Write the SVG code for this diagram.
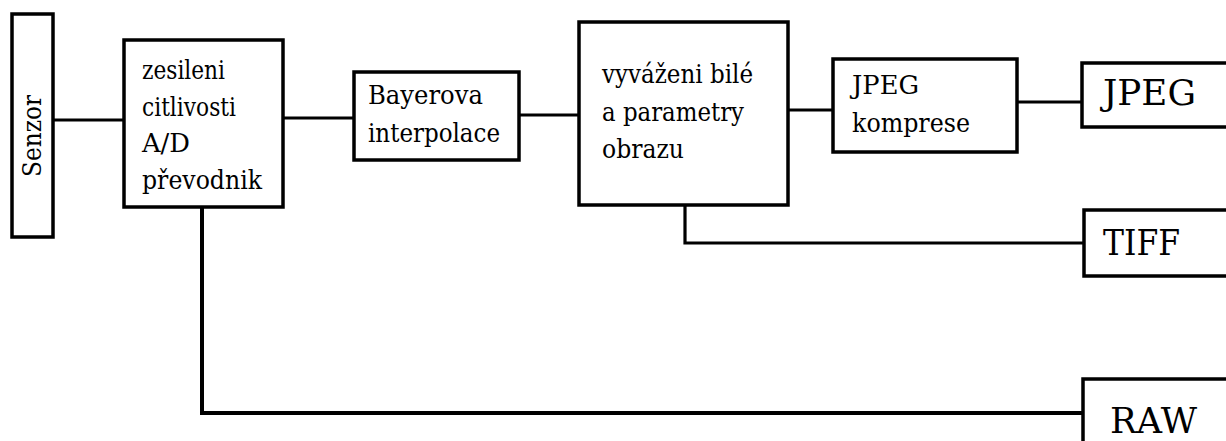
<svg xmlns="http://www.w3.org/2000/svg" width="1226" height="441" viewBox="0 0 1226 441">
<style>
.box{fill:#fff;stroke:#000;stroke-width:3.5}
.c{fill:none;stroke:#000;stroke-width:3.2}
text{font-family:'DejaVu Serif',serif;fill:#000}
.t{font-size:26px}
.big{font-size:35px}
</style>
<rect width="1226" height="441" fill="#fff"/>
<g id="connectors">
<path class="c" d="M53 120H124"/>
<path class="c" d="M283 118H354"/>
<path class="c" d="M519 115H579"/>
<path class="c" d="M788 110H833"/>
<path class="c" d="M1017 102H1082"/>
<path class="c" d="M685 205V243H1084"/>
<path class="c" style="stroke-width:4" d="M202 207V413H1083"/>
</g>
<g id="senzor">
<rect class="box" x="12" y="14" width="41" height="223"/>
<text class="t" transform="translate(41,136) rotate(-90)" text-anchor="middle" textLength="82" lengthAdjust="spacingAndGlyphs">Senzor</text>
</g>
<g id="zesileni">
<rect class="box" x="124" y="40" width="159" height="167"/>
<text class="t" x="142" y="79" textLength="83" lengthAdjust="spacingAndGlyphs">zesileni</text>
<text class="t" x="142" y="115.5" textLength="94" lengthAdjust="spacingAndGlyphs">citlivosti</text>
<text class="t" x="142" y="152" textLength="48" lengthAdjust="spacingAndGlyphs">A/D</text>
<text class="t" x="142" y="188.5" textLength="120" lengthAdjust="spacingAndGlyphs">převodnik</text>
</g>
<g id="bayer">
<rect class="box" x="354" y="72" width="165" height="88"/>
<text class="t" x="368" y="104" textLength="115" lengthAdjust="spacingAndGlyphs">Bayerova</text>
<text class="t" x="368" y="142" textLength="132" lengthAdjust="spacingAndGlyphs">interpolace</text>
</g>
<g id="vyvazeni">
<rect class="box" x="579" y="22" width="209" height="183"/>
<text class="t" x="602" y="83" textLength="151" lengthAdjust="spacingAndGlyphs">vyváženi bilé</text>
<text class="t" x="602" y="121" textLength="142" lengthAdjust="spacingAndGlyphs">a parametry</text>
<text class="t" x="602" y="158" textLength="82" lengthAdjust="spacingAndGlyphs">obrazu</text>
</g>
<g id="jpegkomprese">
<rect class="box" x="833" y="59" width="184" height="93"/>
<text class="t" x="852" y="94" textLength="67" lengthAdjust="spacingAndGlyphs">JPEG</text>
<text class="t" x="852" y="132" textLength="118" lengthAdjust="spacingAndGlyphs">komprese</text>
</g>
<g id="jpeg">
<rect class="box" x="1082" y="63" width="170" height="64"/>
<text class="big" x="1103" y="105" textLength="93" lengthAdjust="spacingAndGlyphs">JPEG</text>
</g>
<g id="tiff">
<rect class="box" x="1084" y="210" width="170" height="66"/>
<text class="big" x="1103" y="255" textLength="77" lengthAdjust="spacingAndGlyphs">TIFF</text>
</g>
<g id="raw">
<rect class="box" x="1083" y="379" width="170" height="80"/>
<text class="big" x="1110" y="433" textLength="87" lengthAdjust="spacingAndGlyphs">RAW</text>
</g>
</svg>
